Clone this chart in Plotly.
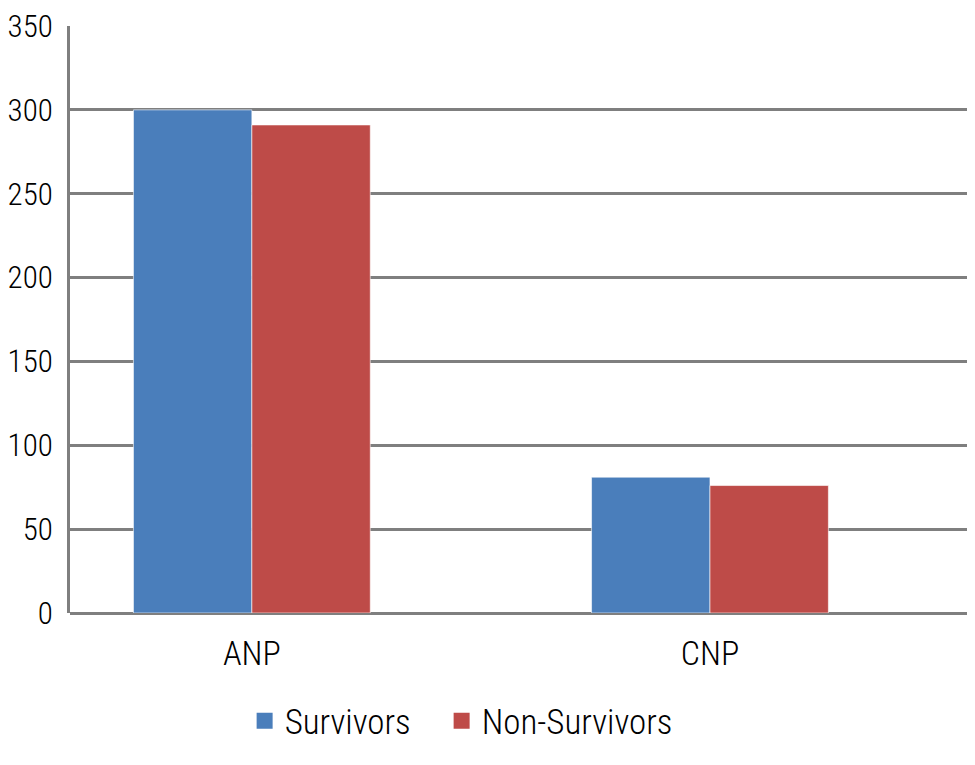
"""
Diagramme en barres : ANP / CNP chez les survivants et non-survivants.
"""

# imports
from plotly.graph_objects import Bar, Scatter, Figure

# données
categories = ["ANP", "CNP"]
survivors = [300, 81]
non_survivors = [291, 76]
y_ticks = [0, 50, 100, 150, 200, 250, 300, 350]

BLUE = "#4A7EBB"
RED = "#BE4B48"
GRID = "#7F7F7F"
FONT = "Roboto Condensed, Roboto, sans-serif"


def bar_plot():
    """Construit la figure."""
    fig = Figure()

    # barres (sans légende, la légende passe par des marqueurs carrés)
    fig.add_trace(Bar(x=categories, y=survivors, name="Survivors",
                      marker_color=BLUE, showlegend=False,
                      marker_line=dict(color="rgba(255,255,255,0.6)", width=1)))
    fig.add_trace(Bar(x=categories, y=non_survivors, name="Non-Survivors",
                      marker_color=RED, showlegend=False,
                      marker_line=dict(color="rgba(255,255,255,0.6)", width=1)))

    # entrées de légende (carrés plus grands que ceux des barres)
    fig.add_trace(Scatter(x=[None], y=[None], mode="markers", name="Survivors",
                          legendwidth=152,
                          marker=dict(symbol="square", size=20, color=BLUE,
                                      line=dict(width=0))))
    fig.add_trace(Scatter(x=[None], y=[None], mode="markers", name="Non-Survivors",
                          marker=dict(symbol="square", size=20, color=RED,
                                      line=dict(width=0))))

    # la page ajoute ~8 px de marge autour de la figure
    fig.update_layout(
        width=975, height=765,
        margin=dict(l=62, r=11, t=18, b=160),
        paper_bgcolor="white", plot_bgcolor="white",
        font=dict(family=FONT, size=34, color="black", weight=300),
        barmode="group", bargap=0.483, bargroupgap=0,
        showlegend=True,
        legend=dict(orientation="h", x=0.1936, xanchor="left",
                    y=-0.184, yanchor="middle", itemsizing="trace",
                    font=dict(family=FONT, size=35, color="black", weight=300)),
    )
    fig.update_xaxes(range=[-0.397, 1.572], showgrid=False, automargin=False,
                     showline=False, ticks="", ticklabelstandoff=17)
    fig.update_yaxes(range=[0, 350], tickvals=y_ticks, automargin=False,
                     tickfont=dict(size=31), ticklabeloverflow="allow",
                     showgrid=True, gridcolor=GRID, gridwidth=3,
                     zeroline=True, zerolinecolor=GRID, zerolinewidth=3,
                     showline=True, linecolor=GRID, linewidth=3,
                     ticks="", ticklabelstandoff=8)
    return fig


def main():
    fig = bar_plot()
    fig.write_html("out.html")


if __name__ == "__main__":
    main()
